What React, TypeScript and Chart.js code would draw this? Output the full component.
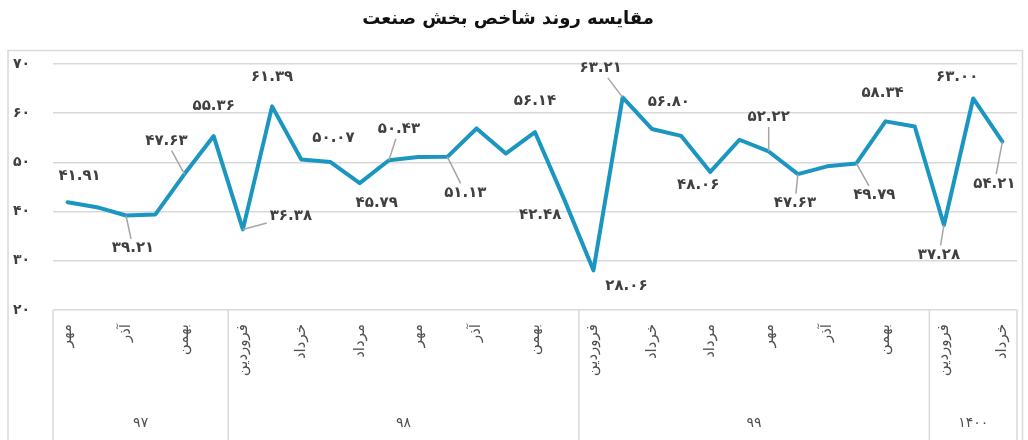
import React, { useEffect, useRef } from 'react';
import { Chart, registerables } from 'chart.js';

Chart.register(...registerables);

const chartTitle = 'مقایسه روند شاخص بخش صنعت';

const months = [
  'مهر', 'آبان', 'آذر', 'دی', 'بهمن', 'اسفند',
  'فروردین', 'اردیبهشت', 'خرداد', 'تیر', 'مرداد', 'شهریور', 'مهر', 'آبان', 'آذر', 'دی', 'بهمن', 'اسفند',
  'فروردین', 'اردیبهشت', 'خرداد', 'تیر', 'مرداد', 'شهریور', 'مهر', 'آبان', 'آذر', 'دی', 'بهمن', 'اسفند',
  'فروردین', 'اردیبهشت', 'خرداد',
];

const years = ['۹۷', '۹۸', '۹۹', '۱۴۰۰'];
const yearMonthCounts = [6, 12, 12, 3];

const values = [
  41.91, 40.9, 39.21, 39.4, 47.63, 55.36,
  36.38, 61.39, 50.6, 50.07, 45.79, 50.43, 51.1, 51.13, 56.9, 51.8, 56.14, 42.48,
  28.06, 63.21, 56.8, 55.4, 48.06, 54.6, 52.22, 47.63, 49.2, 49.79, 58.34, 57.3,
  37.28, 63.0, 54.21,
];

const yMin = 20;
const yMax = 70;
const yStep = 10;

// label placement (style): index -> [dx, dy, leader line]
const labelPlacement: Record<number, [number, number, boolean]> = {
  0: [12, -26, false],
  2: [7, 33, true],
  4: [-18, -33, true],
  5: [0, -30, false],
  6: [48, -13, true],
  7: [0, -29, false],
  9: [3, -24, false],
  10: [17, 20, false],
  11: [10, -31, true],
  13: [18, 36, true],
  16: [0, -31, false],
  17: [-24, 16, false],
  18: [33, 16, false],
  19: [-22, -29, true],
  20: [17, -27, false],
  22: [-12, 13, false],
  24: [0, -34, true],
  25: [-3, 29, true],
  27: [18, 32, true],
  28: [-3, -28, false],
  30: [-5, 30, true],
  31: [-16, -21, false],
  32: [-8, 42, true],
};

const FONT = '"DejaVu Sans", "Noto Sans", sans-serif';
const toFa = (s: string) => s.replace(/[0-9]/g, (d) => '۰۱۲۳۴۵۶۷۸۹'[+d]);

const decorPlugin = {
  id: 'decor',
  beforeDraw(chart: any) {
    const { ctx } = chart;
    ctx.save();
    ctx.fillStyle = '#ffffff';
    ctx.fillRect(0, 0, chart.width, chart.height);
    ctx.strokeStyle = '#d9d9d9';
    ctx.lineWidth = 1.5;
    ctx.strokeRect(8, 50.5, 1014.5, 400);
    ctx.fillStyle = '#111111';
    ctx.font = `bold 18px ${FONT}`;
    ctx.textAlign = 'center';
    ctx.textBaseline = 'middle';
    ctx.fillText(chartTitle, 508, 19);
    ctx.restore();
  },
  afterDraw(chart: any) {
    const { ctx, chartArea: a } = chart;
    const x = chart.scales.x;
    ctx.save();
    // category box separators
    ctx.strokeStyle = '#d9d9d9';
    ctx.lineWidth = 1.5;
    const bounds: number[] = [a.left];
    let idx = 0;
    yearMonthCounts.forEach((c, k) => {
      idx += c;
      if (k < yearMonthCounts.length - 1) {
        bounds.push((x.getPixelForValue(idx - 1) + x.getPixelForValue(idx)) / 2);
      }
    });
    bounds.push(a.right);
    ctx.beginPath();
    bounds.forEach((b) => {
      ctx.moveTo(b, a.bottom);
      ctx.lineTo(b, chart.height);
    });
    ctx.stroke();

    // month labels
    ctx.fillStyle = '#505050';
    ctx.font = `15px ${FONT}`;
    months.forEach((m, i) => {
      if (i % 2 !== 0) return;
      const px = x.getPixelForValue(i);
      ctx.save();
      ctx.translate(px, a.bottom + 14);
      ctx.rotate(-Math.PI / 2);
      ctx.textAlign = 'right';
      ctx.textBaseline = 'middle';
      ctx.fillText(m, 0, 0);
      ctx.restore();
    });

    // year labels
    ctx.font = `14px ${FONT}`;
    ctx.textAlign = 'center';
    ctx.textBaseline = 'middle';
    years.forEach((yr, k) => {
      ctx.fillText(yr, (bounds[k] + bounds[k + 1]) / 2, 423);
    });
    ctx.restore();
  },
  afterDatasetsDraw(chart: any) {
    const { ctx } = chart;
    const meta = chart.getDatasetMeta(0);
    ctx.save();
    ctx.font = `bold 15px ${FONT}`;
    ctx.textAlign = 'center';
    ctx.textBaseline = 'middle';
    Object.keys(labelPlacement).forEach((key) => {
      const i = +key;
      const [dx, dy, leader] = labelPlacement[i];
      const pt = meta.data[i];
      const px = pt.x;
      const py = pt.y;
      const cx = px + dx;
      const cy = py + dy;
      const text = toFa(values[i].toFixed(2));
      const w = ctx.measureText(text).width;
      const h = 15;
      if (leader) {
        const hw = w / 2 + 3;
        const hh = h / 2 + 2;
        const ddx = px - cx;
        const ddy = py - cy;
        const tx = ddx !== 0 ? Math.abs(hw / ddx) : Infinity;
        const ty = ddy !== 0 ? Math.abs(hh / ddy) : Infinity;
        const t = Math.min(tx, ty);
        if (t < 1) {
          ctx.strokeStyle = '#a6a6a6';
          ctx.lineWidth = 1.5;
          ctx.beginPath();
          ctx.moveTo(cx + ddx * t, cy + ddy * t);
          ctx.lineTo(px, py);
          ctx.stroke();
        }
      }
      ctx.fillStyle = '#404040';
      ctx.fillText(text, cx, cy);
    });
    ctx.restore();
  },
};

export default function App() {
  const canvasRef = useRef<HTMLCanvasElement | null>(null);

  useEffect(() => {
    document.body.style.margin = '0';
    const canvas = canvasRef.current;
    if (!canvas) return;
    const chart = new Chart(canvas, {
      type: 'line',
      data: {
        labels: months,
        datasets: [
          {
            data: values,
            borderColor: '#1a96c0',
            borderWidth: 4,
            pointRadius: 0,
            pointHoverRadius: 0,
            tension: 0,
            fill: false,
            borderJoinStyle: 'round',
            borderCapStyle: 'round',
          },
        ],
      },
      options: {
        responsive: false,
        animation: false,
        events: [],
        layout: { padding: { left: 13, right: 11, top: 64, bottom: 130 } },
        plugins: {
          legend: { display: false },
          title: { display: false },
          tooltip: { enabled: false },
        },
        scales: {
          x: {
            type: 'category',
            display: false,
            offset: true,
          },
          y: {
            min: yMin,
            max: yMax,
            afterFit: (s: any) => {
              s.width = 40;
            },
            border: { display: false },
            grid: { color: '#d9d9d9', lineWidth: 1.5, drawTicks: false },
            ticks: {
              stepSize: yStep,
              crossAlign: 'far',
              color: '#404040',
              font: { family: FONT, size: 14, weight: 'bold' },
              callback: (v: any) => toFa(String(v)),
            },
          },
        },
      },
      plugins: [decorPlugin],
    });
    return () => chart.destroy();
  }, []);

  return (
    <div style={{ position: 'absolute', left: 0, top: 0, width: 1028, height: 440 }}>
      <canvas ref={canvasRef} width={1028} height={440} />
    </div>
  );
}
